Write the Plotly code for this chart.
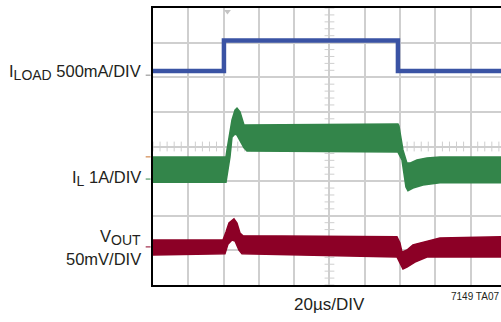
import numpy as np
import plotly.graph_objects as go

# time in µs (20 µs/DIV), vertical in screen divisions (0 = bottom, 8 = top)
iload_t = [0, 40.2, 40.2, 138.8, 138.8, 197.2]
iload_v = [6.18, 6.18, 7.06, 7.06, 6.18, 6.18]

il_up_t = [0, 41.36, 41.93, 43.63, 44.76, 46.46, 47.59, 49.29, 51.56, 138.81, 139.38, 141.64, 143.91, 145.61, 149.57, 155.24, 162.6, 197.2]
il_up_v = [3.70, 3.70, 3.90, 4.39, 4.77, 5.05, 5.11, 5.00, 4.62, 4.65, 4.59, 3.90, 3.52, 3.52, 3.61, 3.67, 3.70, 3.70]
il_lo_t = [0, 41.36, 41.93, 43.63, 44.76, 46.46, 47.59, 49.29, 51.56, 53.26, 138.81, 141.08, 143.34, 144.47, 147.31, 152.97, 162.6, 197.2]
il_lo_v = [2.97, 2.97, 3.03, 3.70, 4.27, 4.36, 4.33, 4.19, 3.96, 3.87, 3.84, 3.61, 2.83, 2.72, 2.80, 2.89, 2.95, 2.95]

vo_up_t = [0, 39.66, 41.36, 43.06, 45.89, 47.59, 49.29, 50.99, 138.24, 139.94, 141.08, 143.91, 147.31, 152.97, 162.6, 197.2]
vo_up_v = [1.30, 1.30, 1.53, 1.79, 1.91, 1.79, 1.50, 1.42, 1.39, 1.21, 0.95, 1.01, 1.16, 1.24, 1.36, 1.39]
vo_lo_t = [0, 40.79, 42.49, 44.76, 46.46, 48.72, 50.42, 138.24, 139.94, 141.64, 143.91, 148.44, 155.24, 197.2]
vo_lo_v = [0.87, 0.90, 1.18, 1.30, 1.27, 1.01, 0.90, 0.81, 0.64, 0.46, 0.52, 0.66, 0.81, 0.81]

BLUE = "#3a53a4"
GREEN = "#33854a"
RED = "#8c0026"
GRID = "#cfcfcf"
FONT = "Liberation Sans, Arial, sans-serif"

fig = go.Figure()

# minor ticks on centre graticule lines
yt = [v for v in np.arange(0, 8.001, 0.2)]
fig.add_trace(go.Scatter(x=[100] * len(yt), y=yt, mode="markers",
                         marker=dict(symbol="line-ew", size=7, line=dict(color=GRID, width=1)),
                         hoverinfo="skip", showlegend=False))
xt = [v for v in np.arange(0, 197.2, 4)]
fig.add_trace(go.Scatter(x=xt, y=[4] * len(xt), mode="markers",
                         marker=dict(symbol="line-ns", size=7, line=dict(color=GRID, width=1)),
                         hoverinfo="skip", showlegend=False))


def band(up_t, up_v, lo_t, lo_v, color):
    xs = list(up_t) + list(lo_t)[::-1]
    ys = list(up_v) + list(lo_v)[::-1]
    fig.add_trace(go.Scatter(x=xs, y=ys, mode="lines", fill="toself", fillcolor=color,
                             line=dict(color=color, width=1.5), hoverinfo="skip", showlegend=False))


band(il_up_t, il_up_v, il_lo_t, il_lo_v, GREEN)
band(vo_up_t, vo_up_v, vo_lo_t, vo_lo_v, RED)
fig.add_trace(go.Scatter(x=iload_t, y=iload_v, mode="lines",
                         line=dict(color=BLUE, width=4.5), hoverinfo="skip", showlegend=False))

# trigger marker
fig.add_trace(go.Scatter(x=[42.2], y=[7.9], mode="markers",
                         marker=dict(symbol="triangle-down", size=6, color="#c4c4c4"),
                         hoverinfo="skip", showlegend=False))

fig.update_layout(
    width=501, height=322,
    margin=dict(l=153, r=0, t=8, b=37),
    paper_bgcolor="white", plot_bgcolor="white",
    font=dict(family=FONT, size=16.5, color="#231f20"),
    xaxis=dict(range=[0, 197.2], dtick=20, tick0=0, showgrid=True, gridcolor=GRID, gridwidth=1.5,
               showticklabels=False, ticks="", zeroline=False,
               showline=True, mirror=True, linecolor="black", linewidth=2),
    yaxis=dict(range=[0, 8], dtick=1, tick0=0, showgrid=True, gridcolor=GRID, gridwidth=1.5,
               showticklabels=False, ticks="", zeroline=False,
               showline=True, mirror=False, linecolor="black", linewidth=2),
)

SUB = "<sub><span style='font-size:14px'>{}</span></sub>"
labels = [
    ("I" + SUB.format("LOAD") + " 500mA/DIV", 6.15),
    ("I" + SUB.format("L") + " 1A/DIV", 3.09),
    ("V" + SUB.format("OUT"), 1.38),
    ("50mV/DIV", 0.75),
]
for txt, yv in labels:
    fig.add_annotation(text=txt, xref="paper", yref="y", x=-0.028, y=yv,
                       xanchor="right", yanchor="middle", showarrow=False)

# channel markers on left edge
for yv, col in [(6.06, "#888888"), (3.70, "#c8712c"), (3.06, GREEN), (1.10, RED)]:
    fig.add_shape(type="line", xref="paper", yref="y", x0=-0.021, x1=-0.007, y0=yv, y1=yv,
                  line=dict(color=col, width=1))

fig.add_annotation(text="20µs/DIV", xref="x", yref="paper", x=100, y=-0.072,
                   xanchor="center", yanchor="middle", showarrow=False, font=dict(size=17))
fig.add_annotation(text="7149 TA07", xref="paper", yref="paper", x=1.0, y=-0.04,
                   xanchor="right", yanchor="middle", showarrow=False, font=dict(size=10))

fig.write_html("out.html")
